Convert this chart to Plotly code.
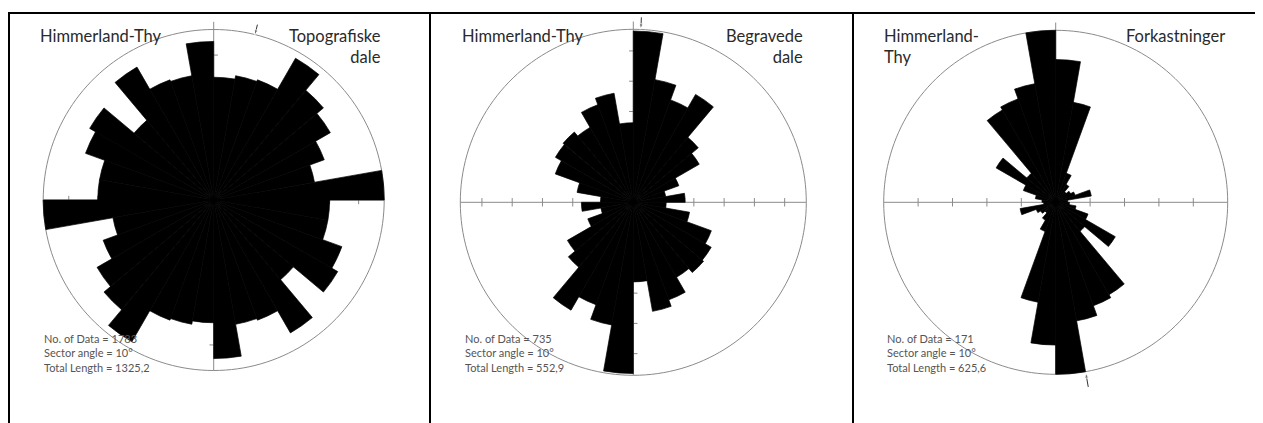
import plotly.graph_objects as go

W, H = 1263, 423
OFF = 8  # page body margin offset (px)
RMAX = 1.1  # radial range beyond the outer circle (room for arrows / north mark)

# Sector centres (10-degree sectors, clockwise from north)
theta = [5 + 10 * i for i in range(36)]

# Relative sector lengths (outer circle = 1)
topo = [0.72, 0.74, 0.75, 0.96, 0.84, 0.79, 0.69, 0.60, 1.00, 0.68, 0.68, 0.80, 0.84, 0.61, 0.90, 0.75, 0.74, 0.93,
        0.72, 0.74, 0.75, 0.96, 0.84, 0.79, 0.69, 0.60, 1.00, 0.68, 0.68, 0.80, 0.84, 0.61, 0.90, 0.75, 0.74, 0.93]
begr = [0.99, 0.72, 0.63, 0.72, 0.49, 0.44, 0.28, 0.19, 0.30, 0.19, 0.33, 0.48, 0.52, 0.53, 0.50, 0.60, 0.64, 0.46,
        0.99, 0.72, 0.63, 0.72, 0.49, 0.44, 0.28, 0.19, 0.30, 0.19, 0.33, 0.48, 0.52, 0.53, 0.50, 0.60, 0.64, 0.46]
fork = [0.83, 0.59, 0.18, 0.12, 0.08, 0.10, 0.12, 0.21, 0.07, 0.08, 0.12, 0.20, 0.40, 0.22, 0.62, 0.64, 0.70, 1.00,
        0.83, 0.59, 0.18, 0.12, 0.08, 0.10, 0.12, 0.21, 0.07, 0.08, 0.12, 0.20, 0.40, 0.22, 0.62, 0.64, 0.70, 1.00]

# Axis tick positions (relative radius)
ticks = [[0.17, 0.34, 0.51, 0.68, 0.85],
         [0.175, 0.35, 0.525, 0.70, 0.875],
         [0.2, 0.4, 0.6, 0.8]]

# Mean direction arrows (azimuth, outer r, inner r)
arrows = [(14, 1.06, 0.995), (2.5, 1.07, 1.0), (170, 1.09, 1.005)]

titles_left = ["Himmerland-Thy", "Himmerland-Thy", "Himmerland-<br>Thy"]
titles_right = ["Topografiske<br>dale", "Begravede<br>dale", "Forkastninger"]
stats = [["No. of Data = 1783", "Sector angle = 10°", "Total Length = 1325,2"],
         ["No. of Data = 735", "Sector angle = 10°", "Total Length = 552,9"],
         ["No. of Data = 171", "Sector angle = 10°", "Total Length = 625,6"]]

series = [topo, begr, fork]
circle_theta = list(range(0, 361, 2))

# layout geometry (pixels in the page)
centers = [(213.7, 200.0), (633.3, 202.3), (1055.7, 202.3)]
radii = [170.5, 173.0, 172.0]
title_left_x = [38, 460, 882]
title_right_x = [383, 805, 1227]
stats_x = [42, 463, 885]


def px(x):
    return (x - OFF) / W


def py(y):
    return 1 - (y - OFF) / H


grey = "#8a8a8a"
fig = go.Figure()
layout = dict(width=W, height=H, margin=dict(l=0, r=0, t=0, b=0),
              paper_bgcolor="white", plot_bgcolor="white", showlegend=False)

for k in range(3):
    under = "polar" if k == 0 else f"polar{k+1}"
    over = f"polar{k+4}"
    cx, cy = centers[k]
    R = radii[k] * RMAX
    dom = dict(x=[px(cx - R), px(cx + R)], y=[max(0, py(cy + R)), min(1, py(cy - R))])
    for sp in (under, over):
        layout[sp] = dict(
            domain=dom, bgcolor="rgba(0,0,0,0)",
            radialaxis=dict(visible=False, range=[0, RMAX]),
            angularaxis=dict(direction="clockwise", rotation=90, showline=False,
                             showgrid=False, ticks="", showticklabels=False),
        )
    # outer circle
    fig.add_trace(go.Scatterpolar(r=[1] * len(circle_theta), theta=circle_theta, mode="lines",
                                  line=dict(color=grey, width=1), subplot=under, hoverinfo="skip"))
    # axes cross (under the bars)
    fig.add_trace(go.Scatterpolar(r=[1, 0, 1], theta=[270, 0, 90], mode="lines",
                                  line=dict(color=grey, width=1), subplot=under, hoverinfo="skip"))
    fig.add_trace(go.Scatterpolar(r=[1.045, 0, 1], theta=[0, 0, 180], mode="lines",
                                  line=dict(color=grey, width=1), subplot=under, hoverinfo="skip"))
    t = ticks[k]
    fig.add_trace(go.Scatterpolar(r=t + t, theta=[90] * len(t) + [270] * len(t), mode="markers",
                                  marker=dict(symbol="line-ns", size=6, line=dict(color=grey, width=1)),
                                  subplot=under, hoverinfo="skip"))
    fig.add_trace(go.Scatterpolar(r=t + t, theta=[0] * len(t) + [180] * len(t), mode="markers",
                                  marker=dict(symbol="line-ew", size=6, line=dict(color=grey, width=1)),
                                  subplot=under, hoverinfo="skip"))
    # rose bars
    fig.add_trace(go.Barpolar(r=series[k], theta=theta, width=[10] * 36,
                              marker=dict(color="black", line=dict(width=0.7, color="black")),
                              subplot=over, hoverinfo="skip"))
    # mean direction arrow
    az, r0, r1 = arrows[k]
    fig.add_trace(go.Scatterpolar(r=[r0, r1], theta=[az, az], mode="lines+markers",
                                  line=dict(color="#333", width=1),
                                  marker=dict(symbol="arrow", size=[0, 6], angleref="previous", color="#333"),
                                  subplot=over, hoverinfo="skip"))

fig.update_layout(**layout)

ann = []
for k in range(3):
    ann.append(dict(x=px(title_left_x[k]), y=py(24), xref="paper", yref="paper", xanchor="left",
                    yanchor="top", align="left", text=titles_left[k], showarrow=False,
                    font=dict(family="Lato", size=16.5, color="#2a2a2a")))
    ann.append(dict(x=px(title_right_x[k]), y=py(24), xref="paper", yref="paper", xanchor="right",
                    yanchor="top", align="right", text=titles_right[k], showarrow=False,
                    font=dict(family="Lato", size=16.5, color="#2a2a2a")))
    ann.append(dict(x=px(stats_x[k]), y=py(330), xref="paper", yref="paper", xanchor="left",
                    yanchor="top", align="left", text="<br>".join(stats[k]), showarrow=False,
                    font=dict(family="Lato", size=11, color="#555555")))
fig.update_layout(annotations=ann)

# panel frame lines
shapes = [dict(type="line", xref="paper", yref="paper", x0=px(8), x1=1.05, y0=py(13), y1=py(13),
               line=dict(color="black", width=2))]
for xpx in [9, 430, 853]:
    shapes.append(dict(type="line", xref="paper", yref="paper", x0=px(xpx), x1=px(xpx), y0=-0.1, y1=py(12),
                       line=dict(color="black", width=2)))
fig.update_layout(shapes=shapes)

fig.write_html("out.html")
